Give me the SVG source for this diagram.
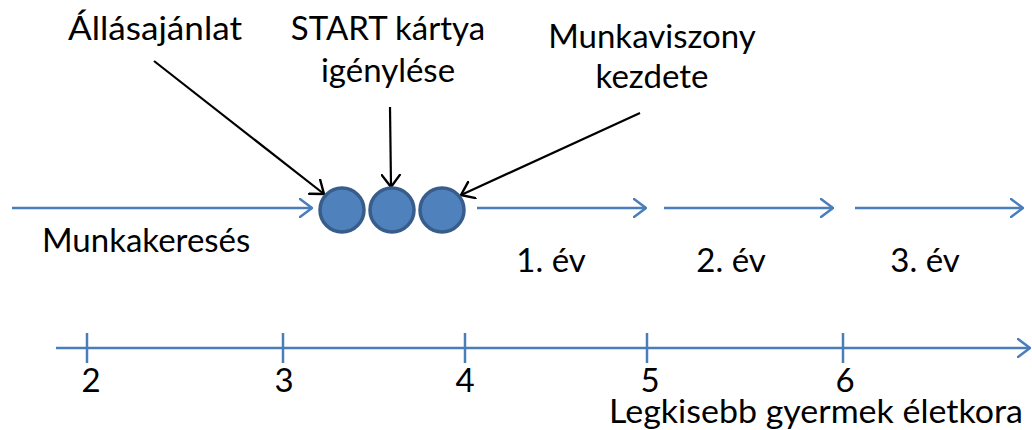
<svg xmlns="http://www.w3.org/2000/svg" width="1032" height="430" viewBox="0 0 1032 430">
<style>
  text { font-family: Lato, "Open Sans", "Liberation Sans", sans-serif; font-size: 33px; fill: #000; }
  .blue { stroke: #4A7EBB; stroke-width: 2.5; fill: none; }
  .blk { stroke: #000; stroke-width: 2.2; fill: none; }
  .dot { fill: #4F81BD; stroke: #385D8A; stroke-width: 3.5; }
  .mid { text-anchor: middle; }
</style>
<defs>
  <marker id="ab" viewBox="0 0 14 20" refX="13" refY="10" markerWidth="14" markerHeight="20" markerUnits="userSpaceOnUse" orient="auto">
    <path d="M1 1 L13 10 L1 19" fill="none" stroke="#4A7EBB" stroke-width="2.5" stroke-linecap="round" stroke-linejoin="round"/>
  </marker>
  <marker id="ak" viewBox="0 0 14 20" refX="13" refY="10" markerWidth="14" markerHeight="20" markerUnits="userSpaceOnUse" orient="auto">
    <path d="M1 1 L13 10 L1 19" fill="none" stroke="#000" stroke-width="2.4" stroke-linecap="round" stroke-linejoin="round"/>
  </marker>
</defs>
<g id="connectors">
  <line class="blue" x1="12" y1="208" x2="312" y2="208" marker-end="url(#ab)"/>
  <line class="blue" x1="477" y1="208" x2="646" y2="208" marker-end="url(#ab)"/>
  <line class="blue" x1="664" y1="208" x2="833" y2="208" marker-end="url(#ab)"/>
  <line class="blue" x1="855" y1="208" x2="1023" y2="208" marker-end="url(#ab)"/>
  <line class="blk" x1="154" y1="61" x2="324" y2="194" marker-end="url(#ak)"/>
  <line class="blk" x1="390" y1="107" x2="391" y2="187" marker-end="url(#ak)"/>
  <line class="blk" x1="640" y1="113" x2="461" y2="195" marker-end="url(#ak)"/>
</g>
<g id="axis">
  <line class="blue" x1="56" y1="348" x2="1030" y2="348" marker-end="url(#ab)"/>
  <line class="blue" x1="87" y1="333" x2="87" y2="363"/>
  <line class="blue" x1="283" y1="333" x2="283" y2="363"/>
  <line class="blue" x1="465" y1="333" x2="465" y2="363"/>
  <line class="blue" x1="647" y1="333" x2="647" y2="363"/>
  <line class="blue" x1="843" y1="333" x2="843" y2="363"/>
  <text class="mid" x="91" y="392">2</text>
  <text class="mid" x="284" y="392">3</text>
  <text class="mid" x="465" y="392">4</text>
  <text class="mid" x="650" y="392">5</text>
  <text class="mid" x="845" y="392">6</text>
  <text x="609" y="423" textLength="414" lengthAdjust="spacingAndGlyphs">Legkisebb gyermek életkora</text>
</g>
<g id="node-allasajanlat">
  <circle class="dot" cx="342" cy="210" r="22"/>
  <text x="68" y="40" textLength="174" lengthAdjust="spacingAndGlyphs">Állásajánlat</text>
</g>
<g id="node-start">
  <circle class="dot" cx="392" cy="210" r="22"/>
  <text class="mid" x="388" y="40">START kártya</text>
  <text class="mid" x="388" y="82">igénylése</text>
</g>
<g id="node-munkaviszony">
  <circle class="dot" cx="442" cy="210" r="22"/>
  <text class="mid" x="652" y="48">Munkaviszony</text>
  <text class="mid" x="652" y="88">kezdete</text>
</g>
<g id="labels">
  <text x="42" y="252">Munkakeresés</text>
  <text class="mid" x="551" y="272">1. év</text>
  <text class="mid" x="731" y="272">2. év</text>
  <text class="mid" x="925" y="272">3. év</text>
</g>
</svg>
